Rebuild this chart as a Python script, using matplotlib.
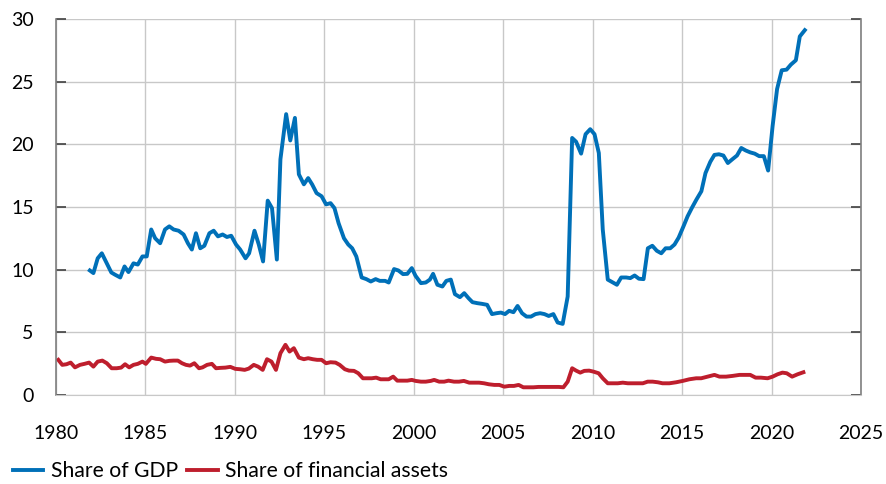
import numpy as np
import matplotlib.pyplot as plt

plt.rcParams['font.family'] = ['Lato', 'DejaVu Sans']

# share of GDP, quarterly (year, value)
gdp_year = [1981.9, 1982.1, 1982.34, 1982.57, 1982.85, 1983.1, 1983.3, 1983.6, 1983.84, 1984.06,
            1984.34, 1984.58, 1984.84, 1985.08, 1985.33, 1985.55, 1985.83, 1986.1, 1986.34, 1986.58,
            1986.86, 1987.14, 1987.38, 1987.6, 1987.83, 1988.07, 1988.3, 1988.58, 1988.82, 1989.06,
            1989.32, 1989.56, 1989.8, 1990.07, 1990.3, 1990.6, 1990.8, 1991.1, 1991.34, 1991.58,
            1991.84, 1992.08, 1992.35, 1992.55, 1992.87, 1993.1, 1993.36, 1993.58, 1993.86, 1994.1,
            1994.32, 1994.57, 1994.85, 1995.1, 1995.35, 1995.57, 1995.8, 1996.1, 1996.34, 1996.56,
            1996.79, 1997.09, 1997.35, 1997.6, 1997.87, 1998.1, 1998.4, 1998.6, 1998.9, 1999.14,
            1999.4, 1999.64, 1999.89, 2000.1, 2000.4, 2000.67, 2000.9, 2001.08, 2001.32, 2001.6,
            2001.82, 2002.07, 2002.3, 2002.58, 2002.82, 2003.06, 2003.28, 2003.56, 2003.8, 2004.1,
            2004.37, 2004.62, 2004.87, 2005.1, 2005.33, 2005.57, 2005.8, 2006.05, 2006.3, 2006.55,
            2006.8, 2007.06, 2007.3, 2007.54, 2007.8, 2008.04, 2008.32, 2008.6, 2008.85, 2009.07,
            2009.35, 2009.6, 2009.86, 2010.1, 2010.34, 2010.56, 2010.84, 2011.09, 2011.35, 2011.59,
            2011.87, 2012.1, 2012.34, 2012.58, 2012.84, 2013.08, 2013.33, 2013.58, 2013.83, 2014.07,
            2014.33, 2014.57, 2014.8, 2015.07, 2015.3, 2015.55, 2015.8, 2016.07, 2016.3, 2016.57,
            2016.8, 2017.05, 2017.3, 2017.55, 2017.8, 2018.06, 2018.3, 2018.55, 2018.8, 2019.05,
            2019.3, 2019.56, 2019.8, 2020.05, 2020.3, 2020.56, 2020.83, 2021.07, 2021.35, 2021.57,
            2021.85]
gdp_share = [9.93, 9.72, 10.9, 11.3, 10.5, 9.77, 9.6, 9.37, 10.25, 9.8,
             10.5, 10.4, 11.05, 11.05, 13.2, 12.5, 12.1, 13.2, 13.45, 13.2,
             13.1, 12.8, 12.1, 11.6, 12.9, 11.7, 11.9, 12.9, 13.1, 12.65,
             12.8, 12.6, 12.7, 12.0, 11.6, 10.9, 11.3, 13.1, 12.0, 10.65,
             15.5, 14.9, 10.8, 18.8, 22.4, 20.3, 22.1, 17.6, 16.8, 17.3,
             16.8, 16.1, 15.85, 15.2, 15.3, 14.9, 13.7, 12.5, 12.0, 11.7,
             11.05, 9.37, 9.24, 9.05, 9.24, 9.1, 9.1, 8.97, 10.04, 9.93,
             9.64, 9.66, 10.12, 9.5, 8.92, 8.97, 9.2, 9.66, 8.79, 8.65,
             9.1, 9.2, 8.04, 7.8, 8.12, 7.72, 7.4, 7.32, 7.27, 7.19,
             6.45, 6.52, 6.57, 6.45, 6.71, 6.6, 7.1, 6.52, 6.25, 6.25,
             6.45, 6.52, 6.45, 6.3, 6.45, 5.78, 5.67, 7.85, 20.5, 20.2,
             19.25, 20.8, 21.2, 20.8, 19.3, 13.2, 9.2, 9.0, 8.79, 9.37,
             9.37, 9.32, 9.53, 9.27, 9.24, 11.7, 11.9, 11.5, 11.3, 11.7,
             11.7, 12.0, 12.55, 13.45, 14.25, 14.95, 15.6, 16.25, 17.7, 18.6,
             19.15, 19.2, 19.1, 18.5, 18.8, 19.1, 19.7, 19.5, 19.35, 19.25,
             19.05, 19.05, 17.9, 21.45, 24.4, 25.9, 25.95, 26.35, 26.7, 28.6,
             29.1]

# share of financial assets
fin_year = [1980.14, 1980.36, 1980.6, 1980.83, 1981.07, 1981.35, 1981.6, 1981.86, 1982.1, 1982.34,
            1982.6, 1982.85, 1983.12, 1983.4, 1983.65, 1983.87, 1984.1, 1984.34, 1984.58, 1984.84,
            1985.03, 1985.33, 1985.6, 1985.83, 1986.1, 1986.34, 1986.58, 1986.82, 1987.05, 1987.27,
            1987.5, 1987.74, 1988.0, 1988.2, 1988.45, 1988.72, 1988.95, 1989.2, 1989.47, 1989.75,
            1990.03, 1990.3, 1990.55, 1990.78, 1991.06, 1991.3, 1991.56, 1991.8, 1992.05, 1992.3,
            1992.55, 1992.83, 1993.06, 1993.3, 1993.58, 1993.86, 1994.1, 1994.36, 1994.6, 1994.85,
            1995.1, 1995.35, 1995.63, 1995.86, 1996.15, 1996.38, 1996.66, 1996.9, 1997.16, 1997.4,
            1997.65, 1997.9, 1998.15, 1998.4, 1998.6, 1998.85, 1999.08, 1999.36, 1999.64, 1999.89,
            2000.1, 2000.4, 2000.67, 2000.95, 2001.14, 2001.42, 2001.7, 2001.94, 2002.25, 2002.53,
            2002.8, 2003.1, 2003.38, 2003.65, 2003.93, 2004.2, 2004.5, 2004.78, 2005.06, 2005.33,
            2005.6, 2005.86, 2006.12, 2006.4, 2006.68, 2006.97, 2007.24, 2007.54, 2007.8, 2008.1,
            2008.36, 2008.6, 2008.85, 2009.07, 2009.3, 2009.53, 2009.8, 2010.04, 2010.33, 2010.56,
            2010.84, 2011.1, 2011.4, 2011.68, 2011.96, 2012.24, 2012.5, 2012.8, 2013.07, 2013.35,
            2013.64, 2013.9, 2014.28, 2014.66, 2015.03, 2015.4, 2015.78, 2016.06, 2016.42, 2016.8,
            2017.08, 2017.45, 2017.82, 2018.2, 2018.57, 2018.8, 2019.1, 2019.4, 2019.77, 2020.05,
            2020.33, 2020.6, 2020.84, 2021.14, 2021.45, 2021.77]
fin_share = [2.8, 2.4, 2.45, 2.58, 2.2, 2.4, 2.48, 2.58, 2.26, 2.66,
             2.74, 2.53, 2.13, 2.13, 2.18, 2.45, 2.2, 2.4, 2.48, 2.66,
             2.48, 2.98, 2.88, 2.85, 2.66, 2.72, 2.74, 2.74, 2.53, 2.4,
             2.34, 2.53, 2.13, 2.2, 2.4, 2.48, 2.13, 2.16, 2.18, 2.24,
             2.08, 2.05, 2.0, 2.1, 2.4, 2.26, 2.0, 2.85, 2.66, 2.0,
             3.33, 4.0, 3.46, 3.73, 2.98, 2.85, 2.93, 2.85, 2.8, 2.8,
             2.53, 2.61, 2.58, 2.4, 2.05, 1.94, 1.92, 1.73, 1.33, 1.33,
             1.33, 1.38, 1.25, 1.25, 1.25, 1.46, 1.14, 1.14, 1.14, 1.2,
             1.12, 1.06, 1.06, 1.12, 1.2, 1.06, 1.06, 1.14, 1.06, 1.06,
             1.12, 0.98, 0.98, 0.98, 0.93, 0.85, 0.8, 0.8, 0.66, 0.72,
             0.72, 0.8, 0.61, 0.61, 0.61, 0.64, 0.64, 0.64, 0.64, 0.64,
             0.61, 1.06, 2.13, 1.94, 1.78, 1.92, 1.94, 1.86, 1.73, 1.33,
             0.93, 0.93, 0.93, 0.98, 0.93, 0.93, 0.93, 0.93, 1.06, 1.06,
             1.01, 0.93, 0.93, 1.01, 1.12, 1.25, 1.33, 1.33, 1.46, 1.6,
             1.46, 1.46, 1.52, 1.6, 1.6, 1.6, 1.38, 1.38, 1.33, 1.46,
             1.65, 1.78, 1.73, 1.46, 1.65, 1.81]

x_ticks = np.arange(1980, 2026, 5)
y_ticks = np.arange(0, 31, 5)

fig = plt.figure(figsize=(8.86, 4.84), dpi=100)
ax = fig.add_axes([0.063, 0.184, 0.909, 0.777])

ax.plot(gdp_year, gdp_share, color='#0070B8', lw=2.8, label='Share of GDP')
ax.plot(fin_year, fin_share, color='#BE1E2D', lw=2.8, label='Share of financial assets')

ax.set_xlim(1980, 2025)
ax.set_ylim(0, 30)
ax.set_xticks(x_ticks)
ax.set_yticks(y_ticks)
ax.grid(True, color='#C8C8C8', lw=1)
ax.set_axisbelow(True)

for s in ['left', 'right']:
    ax.spines[s].set_color('#7F7F7F')
    ax.spines[s].set_linewidth(1.2)
ax.spines['top'].set_visible(False)
ax.spines['bottom'].set_color('#C8C8C8')

ax.tick_params(axis='y', direction='in', left=True, right=True, length=7,
               width=1.2, color='#404040', pad=16, labelsize=14)
ax.tick_params(axis='x', length=0, pad=22, labelsize=14)

fig.legend(loc='lower left', bbox_to_anchor=(0.0, -0.02), ncol=2, frameon=False,
           fontsize=15.2, handlelength=1.45, handletextpad=0.35, columnspacing=0.45,
           borderaxespad=0.2)

plt.savefig('out.png', dpi=100)
